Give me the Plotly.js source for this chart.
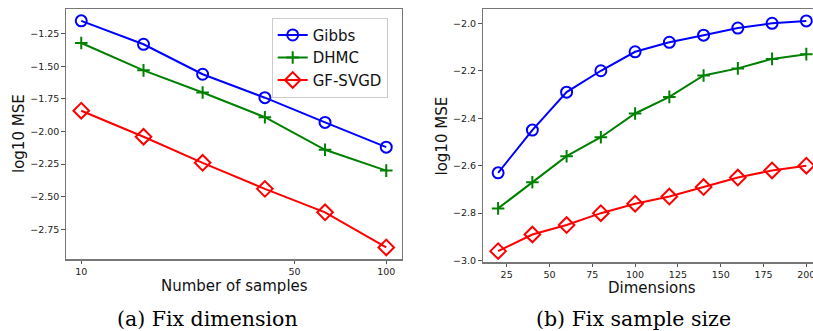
<!DOCTYPE html>
<html>
<head>
<meta charset="utf-8">
<script src="https://cdn.plot.ly/plotly-3.0.1.min.js"></script>
<style>html,body{margin:0;padding:0;background:#fff;}</style>
</head>
<body>
<div id="chart" style="width:813px;height:331px;"></div>
<script>
// (a) Fix dimension
const nSamples = [10, 16, 25, 40, 63, 100];
const gibbsA = [-1.15, -1.33, -1.56, -1.74, -1.93, -2.12];
const dhmcA  = [-1.32, -1.53, -1.70, -1.89, -2.14, -2.30];
const svgdA  = [-1.84, -2.04, -2.24, -2.44, -2.62, -2.89];
const xTicksA = [10, 50, 100];
const xTickTextA = ["10", "50", "100"];

// (b) Fix sample size
const dims = [20, 40, 60, 80, 100, 120, 140, 160, 180, 200];
const gibbsB = [-2.63, -2.45, -2.29, -2.20, -2.12, -2.08, -2.05, -2.02, -2.00, -1.99];
const dhmcB  = [-2.78, -2.67, -2.56, -2.48, -2.38, -2.31, -2.22, -2.19, -2.15, -2.13];
const svgdB  = [-2.96, -2.89, -2.85, -2.80, -2.76, -2.73, -2.69, -2.65, -2.62, -2.60];

const names = ["Gibbs", "DHMC", "GF-SVGD"];
const colors = ["#0000ff", "#008000", "#ff0000"];
const symbols = ["circle-open", "cross-thin-open", "diamond-open"];
const sizes = [11, 9, 12];

const seriesA = [gibbsA, dhmcA, svgdA];
const seriesB = [gibbsB, dhmcB, svgdB];

const traces = [];
seriesA.forEach((ys, i) => {
  traces.push({
    x: nSamples, y: ys, type: "scatter", mode: "lines+markers",
    name: names[i], xaxis: "x", yaxis: "y", showlegend: true,
    line: {color: colors[i], width: 2},
    marker: {symbol: symbols[i], size: sizes[i], color: colors[i], line: {color: colors[i], width: 2}}
  });
});
seriesB.forEach((ys, i) => {
  traces.push({
    x: dims, y: ys, type: "scatter", mode: "lines+markers",
    name: names[i], xaxis: "x2", yaxis: "y2", showlegend: false,
    line: {color: colors[i], width: 2},
    marker: {symbol: symbols[i], size: sizes[i], color: colors[i], line: {color: colors[i], width: 2}}
  });
});

const tickFont = {family: "DejaVu Sans", size: 9.5, color: "#222"};
const frame = {showline: true, linecolor: "#777", linewidth: 1.2, ticks: "outside",
  ticklen: 3.5, tickwidth: 1, tickcolor: "#555", showgrid: false, zeroline: false,
  tickfont: tickFont, fixedrange: true};

const layout = {
  width: 813, height: 331,
  margin: {l: 0, r: 0, t: 0, b: 0},
  paper_bgcolor: "#fff", plot_bgcolor: "#fff",
  showlegend: true,
  legend: {x: 271.7/813, y: 1 - 17.7/331, xanchor: "left", yanchor: "top",
    bgcolor: "rgba(255,255,255,0.9)", bordercolor: "#ccc", borderwidth: 1,
    font: {family: "DejaVu Sans", size: 15, color: "#111"}, tracegroupgap: 0},
  xaxis: Object.assign({}, frame, {domain: [66/813, 401.5/813], type: "log",
    range: [0.95, 2.05], tickvals: xTicksA, ticktext: xTickTextA, mirror: true, anchor: "y"}),
  yaxis: Object.assign({}, frame, {domain: [1 - 259.3/331, 1 - 9/331],
    range: [-2.981, -1.059], tick0: 0, dtick: 0.25, tickformat: ".2f", mirror: true, anchor: "x"}),
  xaxis2: Object.assign({}, frame, {domain: [482.7/813, 1],
    range: [11, 203.9], tick0: 0, dtick: 25, mirror: true, anchor: "y2",
    ticklabeloverflow: "allow"}),
  yaxis2: Object.assign({}, frame, {domain: [1 - 262.3/331, 1 - 9.3/331],
    range: [-3.007, -1.941], tick0: 0, dtick: 0.2, tickformat: ".1f", mirror: false, anchor: "x2"}),
  annotations: [
    {text: "log10 MSE", xref: "paper", yref: "paper", x: 19/813, y: 1 - 134/331,
     textangle: -90, showarrow: false, xanchor: "center", yanchor: "middle",
     font: {family: "DejaVu Sans", size: 15, color: "#111"}},
    {text: "log10 MSE", xref: "paper", yref: "paper", x: 441.7/813, y: 1 - 135.8/331,
     textangle: -90, showarrow: false, xanchor: "center", yanchor: "middle",
     font: {family: "DejaVu Sans", size: 15, color: "#111"}},
    {text: "Number of samples", xref: "paper", yref: "paper", x: 234/813, y: 1 - 286/331,
     showarrow: false, xanchor: "center", yanchor: "middle",
     font: {family: "DejaVu Sans", size: 15, color: "#111"}},
    {text: "Dimensions", xref: "paper", yref: "paper", x: 652/813, y: 1 - 288/331,
     showarrow: false, xanchor: "center", yanchor: "middle",
     font: {family: "DejaVu Sans", size: 15, color: "#111"}},
    {text: "(a) Fix dimension", xref: "paper", yref: "paper", x: 207/813, y: 1 - 319/331,
     showarrow: false, xanchor: "center", yanchor: "middle",
     font: {family: "DejaVu Serif", size: 20.5, color: "#000"}},
    {text: "(b) Fix sample size", xref: "paper", yref: "paper", x: 633/813, y: 1 - 319/331,
     showarrow: false, xanchor: "center", yanchor: "middle",
     font: {family: "DejaVu Serif", size: 20.5, color: "#000"}}
  ]
};

Plotly.newPlot("chart", traces, layout, {displayModeBar: false, staticPlot: true});
</script>
</body>
</html>
